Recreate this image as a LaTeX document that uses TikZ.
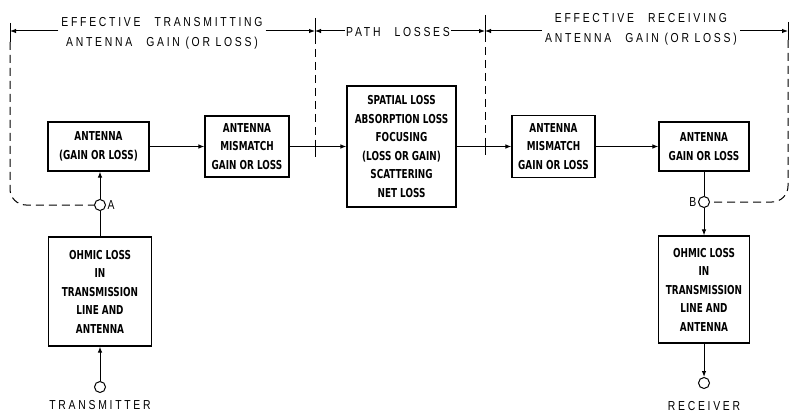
\documentclass[tikz,border=0pt]{standalone}
\usepackage{fontspec}
\setmainfont{Liberation Sans}
\newfontfamily\boxfont{DejaVu Sans}[FakeStretch=0.72]
\newfontfamily\lblfont{Liberation Sans}[FakeStretch=0.8, LetterSpace=21]
\usetikzlibrary{arrows.meta,positioning}
\tikzset{
  blk/.style={draw, line width=1.1pt, inner sep=0pt, align=center,
    font=\boxfont\bfseries\fontsize{12.3}{18.5}\selectfont},
  arr/.style={line width=1pt, -{Latex[length=6pt,width=4.5pt]}},
  ln/.style={line width=1pt},
  dsh/.style={line width=1pt, dash pattern=on 8pt off 5pt},
  term/.style={draw, circle, line width=1pt, minimum size=11pt, inner sep=0pt},
  lbl/.style={align=center, inner sep=3pt, font=\lblfont\fontsize{13}{20}\selectfont}
}
\newcommand{\wg}{\hspace{14pt}}
\begin{document}
\begin{tikzpicture}[x=1pt,y=-1pt]
\useasboundingbox (0,0) rectangle (789,414);
% boxes
\node[blk, minimum width=101pt, minimum height=49pt] (antL) at (98.5,146.5) {ANTENNA\\(GAIN OR LOSS)};
\node[blk, minimum width=84pt, minimum height=61pt] (mmL) at (247,146.5) {ANTENNA\\MISMATCH\\GAIN OR LOSS};
\node[blk, minimum width=109pt, minimum height=121pt] (spat) at (401.5,146.5) {SPATIAL LOSS\\ABSORPTION LOSS\\FOCUSING\\(LOSS OR GAIN)\\SCATTERING\\NET LOSS};
\node[blk, minimum width=83pt, minimum height=62pt] (mmR) at (553.5,146.5) {ANTENNA\\MISMATCH\\GAIN OR LOSS};
\node[blk, minimum width=90pt, minimum height=49pt] (antR) at (704,146.5) {ANTENNA\\GAIN OR LOSS};
\node[blk, minimum width=103pt, minimum height=109pt] (ohL) at (100,291.5) {OHMIC LOSS\\IN\\TRANSMISSION\\LINE AND\\ANTENNA};
\node[blk, minimum width=91pt, minimum height=107pt] (ohR) at (704,289.5) {OHMIC LOSS\\IN\\TRANSMISSION\\LINE AND\\ANTENNA};
% terminals
\node[term] (A) at (100,205) {};
\node[anchor=west, inner sep=0pt, font=\lblfont\fontsize{13}{14}\selectfont] (Alab) at ([xshift=1.5pt]A.east) {A};
\node[term] (tx) at (100,387) {};
\node[term] (B) at (704,202) {};
\node[anchor=east, inner sep=0pt, font=\lblfont\fontsize{13}{14}\selectfont] (Blab) at ([xshift=-1.5pt]B.west) {B};
\node[term] (rx) at (704,383) {};
\node[lbl] (txl) at (100,405.5) {TRANSMITTER};
\node[lbl] (rxl) at (704,406) {RECEIVER};
% signal path
\draw[arr] (antL.east) -- (mmL.west);
\draw[arr] (mmL.east) -- (spat.west);
\draw[arr] (spat.east) -- (mmR.west);
\draw[arr] (mmR.east) -- (antR.west);
\draw[arr] (A.north) -- (A |- antL.south);
\draw[ln] (ohL.north) -- (A.south);
\draw[arr] (tx.north) -- (ohL.south);
\draw[ln] (antR.south) -- (B.north);
\draw[arr] (B.south) -- (ohR.north);
\draw[arr] (ohR.south) -- (rx.north);
% region boundaries
\coordinate (t1) at (10,31);
\coordinate (t2) at (315,31);
\coordinate (t3) at (485,31);
\coordinate (t4) at (788,31);
\draw[ln] (10,23) -- (10,42);
\draw[dsh, rounded corners=16pt] (10,42) -- (10,205) -- (A.west);
\draw[ln] (315,18) -- (315,36);
\draw[dsh] (315,36) -- (315,140);
\draw[ln] (315,140) -- (315,157);
\draw[ln] (485,15) -- (485,34);
\draw[dsh] (485,34) -- (485,138);
\draw[ln] (485,138) -- (485,155);
\draw[ln] (788,22) -- (788,40);
\draw[dsh, rounded corners=16pt] (788,40) -- (788,202) -- (B.east);
% labels
\node[lbl] (lblT) at (162,33) {EFFECTIVE\wg TRANSMITTING\\ANTENNA\wg GAIN (OR LOSS)};
\node[lbl, inner sep=1pt] (lblP) at (398,32) {PATH\wg LOSSES};
\node[lbl] (lblR) at (641,29) {EFFECTIVE\wg RECEIVING\\ANTENNA\wg GAIN (OR LOSS)};
\draw[arr] (lblT.west |- t1) -- (t1);
\draw[arr] (lblT.east |- t1) -- (t2);
\draw[arr] (lblP.west |- t1) -- (t2);
\draw[arr] (lblP.east |- t1) -- (t3);
\draw[arr] (lblR.west |- t1) -- (t3);
\draw[arr] (lblR.east |- t1) -- (t4);
\end{tikzpicture}
\end{document}
